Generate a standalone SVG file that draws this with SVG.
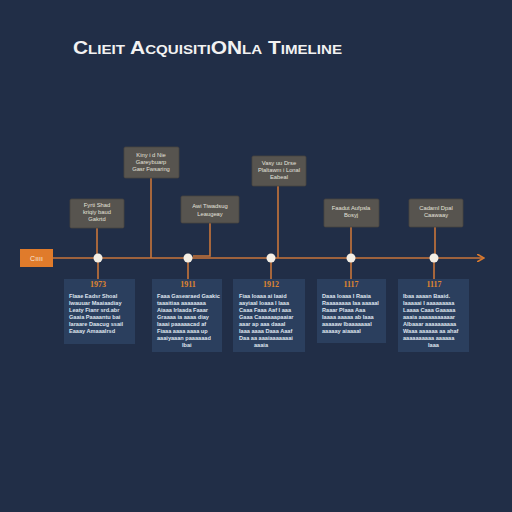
<svg xmlns="http://www.w3.org/2000/svg" width="512" height="512" viewBox="0 0 512 512">
<defs>
<style>
.title{font-family:"Liberation Sans",Arial,sans-serif;font-weight:bold;font-size:18px;fill:#f2f2f2;font-variant:small-caps}
.up{fill:#57544f;stroke:#47443f;stroke-width:0.8}
.upt{font-family:"Liberation Sans",Arial,sans-serif;font-size:5.8px;fill:#e4e2dc;text-anchor:middle}
.low{fill:#2b3f5e}
.lowt{font-family:"Liberation Sans",Arial,sans-serif;font-size:5.6px;font-weight:bold;fill:#dfe4ee}
.yr{font-family:"Liberation Serif",serif;font-weight:bold;font-size:8px;fill:#e0862f;text-anchor:middle}
.ln{stroke:#c9753a;stroke-width:1.6;fill:none}
.dot{fill:#f4efe6}
</style>
<marker id="ah" markerWidth="8" markerHeight="8" refX="6" refY="4" orient="auto" markerUnits="userSpaceOnUse">
<path d="M0,0 L7,4 L0,8" fill="none" stroke="#d8792f" stroke-width="1.6"/>
</marker>
</defs>
<rect width="512" height="512" fill="#212e47"/>
<text class="title" x="73" y="54" textLength="269" lengthAdjust="spacingAndGlyphs">Clieit AcquisitiONla Timeline</text>

<g id="connectors">
<line class="ln" x1="53" y1="258" x2="483" y2="258" marker-end="url(#ah)"/>
<line class="ln" x1="97" y1="228" x2="97" y2="258"/>
<line class="ln" x1="151" y1="178" x2="151" y2="258"/>
<path class="ln" d="M210,223 V256 H193"/>
<line class="ln" x1="278" y1="186" x2="278" y2="258"/>
<line class="ln" x1="351" y1="227" x2="351" y2="258"/>
<line class="ln" x1="435" y1="227" x2="435" y2="258"/>
<line class="ln" x1="98" y1="258" x2="98" y2="280"/>
<line class="ln" x1="188" y1="258" x2="188" y2="280"/>
<line class="ln" x1="271" y1="258" x2="271" y2="280"/>
<line class="ln" x1="351" y1="258" x2="351" y2="280"/>
<line class="ln" x1="434" y1="258" x2="434" y2="280"/>
</g>

<g id="start">
<rect x="20" y="249" width="33" height="18" fill="#e07b2b"/>
<text x="36.5" y="261" font-family="Liberation Sans,Arial,sans-serif" font-size="7px" fill="#fbe9d8" text-anchor="middle">Cıııı</text>
</g>

<g id="dots">
<circle class="dot" cx="98" cy="258" r="4.5"/>
<circle class="dot" cx="188" cy="258" r="4.5"/>
<circle class="dot" cx="271" cy="258" r="4.5"/>
<circle class="dot" cx="351" cy="258" r="4.5"/>
<circle class="dot" cx="434" cy="258" r="4.5"/>
</g>

<g id="event1">
<rect class="up" x="70" y="199" width="54" height="29" rx="1.5"/>
<text class="upt" x="97" y="207">Fyrti Shad</text>
<text class="upt" x="97" y="214">kriqiy baud</text>
<text class="upt" x="97" y="221">Gakrtd</text>
</g>
<g id="event2">
<rect class="up" x="124" y="147" width="55" height="31" rx="1.5"/>
<text class="upt" x="151" y="157">Kiny i d Nie</text>
<text class="upt" x="151" y="164">Gareybuarp</text>
<text class="upt" x="151" y="171">Gasr Fwsaring</text>
</g>
<g id="event3">
<rect class="up" x="181" y="196" width="58" height="27" rx="1.5"/>
<text class="upt" x="210" y="208">Awi Tiwadsug</text>
<text class="upt" x="210" y="216">Leaugeay</text>
</g>
<g id="event4">
<rect class="up" x="252" y="156" width="54" height="30" rx="1.5"/>
<text class="upt" x="279" y="165">Vasy uu Drse</text>
<text class="upt" x="279" y="172">Plaltawm i Lonal</text>
<text class="upt" x="279" y="179">Eabeal</text>
</g>
<g id="event5">
<rect class="up" x="324" y="199" width="55" height="28" rx="1.5"/>
<text class="upt" x="351" y="210">Faadut Aufpsla</text>
<text class="upt" x="351" y="217">Bosyj</text>
</g>
<g id="event6">
<rect class="up" x="409" y="199" width="54" height="28" rx="1.5"/>
<text class="upt" x="436" y="210">Cadaml Dpal</text>
<text class="upt" x="436" y="217">Caawaay</text>
</g>

<g id="year1">
<rect class="low" x="64" y="279" width="71" height="65"/>
<text class="yr" x="98" y="287">1973</text>
<text class="lowt" x="69" y="298">Flaae Eadsr Shoal</text>
<text class="lowt" x="69" y="305">Iwauuar Maaiaadiay</text>
<text class="lowt" x="69" y="312">Leaty Fianr srd.abr</text>
<text class="lowt" x="69" y="319">Gaaia Paaaantu bai</text>
<text class="lowt" x="69" y="326">Iaraare Daacug ssail</text>
<text class="lowt" x="69" y="333">Eaaay Amaaalrsd</text>
</g>
<g id="year2">
<rect class="low" x="152" y="279" width="70" height="73"/>
<text class="yr" x="188" y="287">1911</text>
<text class="lowt" x="157" y="298">Faaa Gasearaed Gaakic</text>
<text class="lowt" x="157" y="305">taaaitiaa aaaaaaaa</text>
<text class="lowt" x="157" y="312">Aiaaa Irlaada Faaar</text>
<text class="lowt" x="157" y="319">Graaaa ia aaaa diay</text>
<text class="lowt" x="157" y="326">Iaaai paaaaacad af</text>
<text class="lowt" x="157" y="333">Fiaaa aaaa aaaa up</text>
<text class="lowt" x="157" y="340">aaaiyaaan paaaaaad</text>
<text class="lowt" x="182" y="347">Ibai</text>
</g>
<g id="year3">
<rect class="low" x="233" y="279" width="72" height="73"/>
<text class="yr" x="271" y="287">1912</text>
<text class="lowt" x="239" y="298">Fiaa Ioaaa ai Iaaid</text>
<text class="lowt" x="239" y="305">aayiaal Ioaaa I laaa</text>
<text class="lowt" x="239" y="312">Caaa Faaa Aaf I aaa</text>
<text class="lowt" x="239" y="319">Gaaa Caaaaaapaaiar</text>
<text class="lowt" x="239" y="326">aaar ap aaa daaal</text>
<text class="lowt" x="239" y="333">Iaaa aaaa Daaa Aaaf</text>
<text class="lowt" x="239" y="340">Daa aa aaaiaaaaaaai</text>
<text class="lowt" x="254" y="347">aaaia</text>
</g>
<g id="year4">
<rect class="low" x="317" y="279" width="69" height="64"/>
<text class="yr" x="351" y="287">1117</text>
<text class="lowt" x="322" y="298">Daaa Ioaaa I Raaia</text>
<text class="lowt" x="322" y="305">Raaaaaaaa Iaa aaaaal</text>
<text class="lowt" x="322" y="312">Raaar Plaaa Aaa</text>
<text class="lowt" x="322" y="319">Iaaaa aaaaa ab Iaaa</text>
<text class="lowt" x="322" y="326">aaaaaw Ibaaaaaaal</text>
<text class="lowt" x="322" y="333">aaaaay aiaaaal</text>
</g>
<g id="year5">
<rect class="low" x="398" y="279" width="71" height="73"/>
<text class="yr" x="434" y="287">1117</text>
<text class="lowt" x="403" y="298">Ibaa aaaan Baaid.</text>
<text class="lowt" x="403" y="305">Iaaaaai I aaaaaaaaa</text>
<text class="lowt" x="403" y="312">Laaaa Caaa Gaaaaa</text>
<text class="lowt" x="403" y="319">aaaia aaaaaaaaaaar</text>
<text class="lowt" x="403" y="326">Albaaar aaaaaaaaaa</text>
<text class="lowt" x="403" y="333">Waaa aaaaaa aa ahaf</text>
<text class="lowt" x="403" y="340">aaaaaaaaaa aaaaaa</text>
<text class="lowt" x="428" y="347">Iaaa</text>
</g>
</svg>
